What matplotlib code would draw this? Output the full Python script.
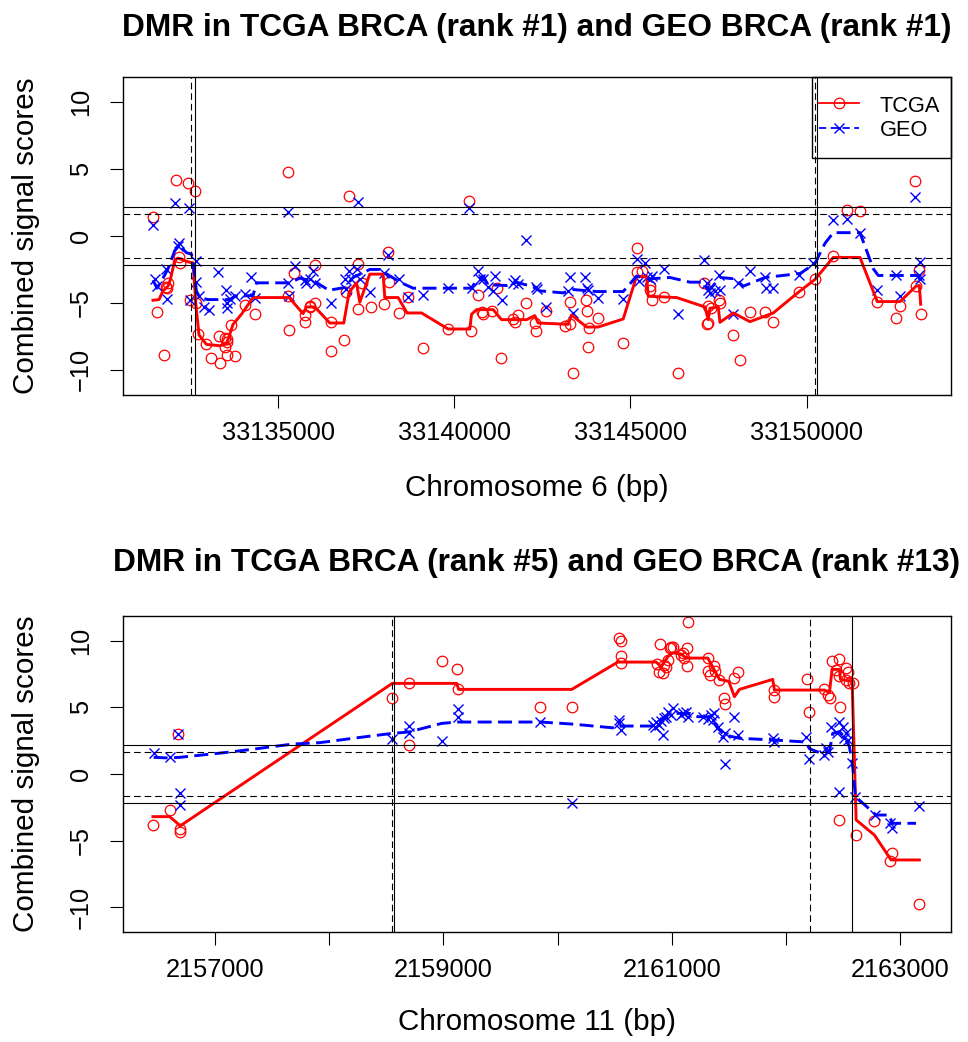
import numpy as np
import matplotlib
matplotlib.use("Agg")
import matplotlib.pyplot as plt
from matplotlib.lines import Line2D
from matplotlib.patches import Rectangle

plt.rcParams['font.family'] = ['Liberation Sans', 'DejaVu Sans']

# ---------------- Chromosome 6 region ----------------
CHR6_BASE = 33130000
tcga6_pos = [1451, 1565, 1775, 1832, 1860, 1877, 2096, 2181, 2210, 2456,
             2513, 2655, 2664, 2740, 2948, 3098, 3325, 3353, 3487, 3487,
             3544, 3544, 3544, 3666, 3771, 4055, 4339, 5284, 5284, 5312,
             5466, 5758, 5758, 5900, 5900, 6042, 6042, 6516, 6516, 6865,
             6942, 7016, 7271, 7271, 7368, 7632, 8001, 8123, 8151, 8435,
             8690, 9099, 9826, 10414, 10470, 10678, 10783, 10820, 11058, 11200,
             11322, 11671, 11719, 11805, 12032, 12287, 12316, 12600, 13139, 13281,
             13281, 13374, 13735, 13754, 13782, 13827, 14084, 14794, 15174, 15174,
             15325, 15552, 15552, 15608, 15949, 16338, 17093, 17170, 17207, 17207,
             17296, 17515, 17539, 17917, 18101, 18391, 18817, 19052, 19790, 20236,
             20738, 21136, 21513, 22004, 22535, 22649, 23075, 23103, 23197, 23236]
tcga6_val = [1.4, -5.7, -8.9, -3.8, -3.9, -3.5, 4.15, -1.55, -2.0, 3.97,
             -4.75, 3.33, -5.0, -7.3, -8.07, -9.1, -7.5, -9.5, -7.6, -8.3,
             -7.9, -7.7, -8.9, -6.65, -9.0, -5.15, -5.8, 4.8, -4.5, -7.0,
             -2.8, -5.9, -6.4, -5.2, -5.3, -5.0, -2.2, -6.45, -8.6, -7.75,
             -4.2, 3.0, -2.1, -5.45, -3.5, -5.3, -5.1, -1.2, -3.4, -5.75,
             -4.55, -8.4, -6.95, 2.6, -7.1, -4.4, -5.7, -5.85, -5.6, -3.9,
             -9.1, -6.2, -6.4, -5.9, -5.0, -6.5, -7.1, -5.6, -6.7, -6.6,
             -4.95, -10.25, -4.75, -5.6, -8.3, -6.85, -6.1, -8.0, -0.9, -2.7,
             -2.6, -3.75, -4.0, -4.75, -4.55, -10.2, -3.5, -6.6, -5.25, -6.5,
             -5.35, -4.75, -5.0, -7.4, -9.3, -5.7, -5.7, -6.4, -4.15, -3.25,
             -1.5, 1.93, 1.88, -4.9, -6.1, -5.2, 4.1, -3.7, -2.55, -5.8]
tcga6_fit_pos = [1451, 1622, 1736, 1877, 1945, 2068, 2161, 2473, 2587, 2664,
                 2757, 2968, 3345, 3535, 3629, 3723, 3961, 4290, 5312, 5710,
                 5806, 6042, 6468, 6865, 7016, 7225, 7319, 7603, 7981, 8029,
                 8407, 8662, 9071, 9826, 10442, 10490, 10632, 11103, 11342, 12051,
                 12287, 12381, 13233, 13329, 13754, 14084, 14794, 15174, 15458, 15504,
                 16310, 17113, 17207, 17255, 17491, 17539, 17917, 18391, 19052, 19790,
                 20236, 20755, 21513, 22004, 22649, 23103, 23197, 23236]
tcga6_fit_val = [-4.8, -4.75, -4.1, -3.75, -3.25, -1.8, -1.65, -1.95, -2.0, -5.0,
                 -7.4, -8.1, -8.2, -8.07, -7.35, -6.6, -5.85, -4.6, -4.6, -5.8,
                 -5.3, -5.3, -6.5, -6.5, -4.2, -3.5, -4.95, -2.85, -2.85, -4.6,
                 -4.6, -5.75, -5.75, -6.95, -6.95, -5.85, -5.5, -5.5, -6.25, -6.25,
                 -5.95, -6.5, -6.6, -5.9, -6.8, -6.8, -6.2, -3.0, -3.05, -4.5,
                 -4.6, -5.3, -6.25, -5.4, -5.3, -6.45, -5.75, -6.4, -5.75, -4.15,
                 -3.25, -1.6, -1.6, -4.9, -4.9, -3.75, -3.7, -5.1]
geo6_pos = [1451, 1508, 1565, 1832, 1860, 2068, 2161, 2190, 2473, 2493,
            2664, 2664, 2749, 2899, 3041, 3297, 3515, 3544, 3544, 3629,
            3771, 4055, 4245, 4339, 5284, 5284, 5312, 5474, 5758, 5806,
            5900, 5994, 6042, 6516, 6893, 6942, 7016, 7084, 7243, 7271,
            7319, 7603, 8009, 8123, 8435, 8690, 9099, 9826, 10414, 10490,
            10678, 10726, 10820, 10961, 11103, 11150, 11342, 11671, 11719, 11805,
            12023, 12316, 12344, 12600, 13233, 13281, 13374, 13707, 13754, 13782,
            14084, 14794, 15174, 15249, 15410, 15467, 15552, 15608, 15949, 16338,
            17093, 17170, 17207, 17255, 17397, 17511, 17539, 17917, 18059, 18391,
            18817, 18846, 19052, 19790, 20188, 20755, 21136, 21513, 22004, 22535,
            22649, 23075, 23197, 23216, 23216]
geo6_val = [0.8, -3.25, -3.7, -2.5, -4.7, 2.45, -0.75, -0.5, 2.1, -4.75,
            -1.9, -3.4, -4.5, -5.3, -5.55, -2.7, -4.0, -5.0, -5.4, -4.7,
            -4.5, -4.3, -3.05, -4.6, 1.8, -3.5, -4.5, -2.25, -3.3, -3.5,
            -3.2, -2.6, -3.5, -5.0, -3.2, -3.95, -2.6, -3.25, -2.45, 2.55,
            -3.25, -4.2, -2.8, -1.4, -3.25, -4.55, -4.4, -3.9, 2.1, -3.9,
            -2.6, -3.25, -3.2, -3.8, -4.1, -3.0, -4.75, -3.5, -3.3, -3.6,
            -0.3, -3.8, -3.95, -5.3, -4.1, -3.1, -5.75, -3.1, -3.9, -4.0,
            -4.6, -4.7, -1.75, -3.35, -2.0, -3.1, -3.25, -3.0, -2.5, -5.8,
            -1.8, -3.5, -4.0, -4.25, -4.1, -2.95, -4.0, -5.8, -3.5, -2.6,
            -3.1, -3.9, -3.9, -2.9, -2.0, 1.2, 1.25, 0.2, -4.0, -2.95,
            -4.5, 2.88, -2.9, -1.95, -3.25]
geo6_fit_pos = [1451, 1565, 1736, 1877, 2068, 2210, 2400, 2542, 2607, 2683,
                2777, 3013, 3629, 3771, 4290, 4387, 5332, 5616, 6042, 6468,
                6561, 6893, 7129, 7603, 7887, 8123, 8503, 8832, 10490, 10632,
                10820, 10961, 11484, 11768, 12239, 12429, 13091, 13374, 14039, 14794,
                15174, 15552, 16120, 16687, 17019, 17255, 17539, 17965, 18201, 18817,
                19817, 20236, 20520, 20755, 21513, 21891, 22033, 23168, 23236]
geo6_fit_val = [-3.3, -3.9, -3.15, -2.45, -1.1, -0.7, -1.25, -1.35, -2.35, -4.1,
                -4.6, -4.75, -4.75, -4.5, -4.45, -3.5, -3.5, -3.15, -3.4, -4.1,
                -4.0, -3.85, -3.1, -2.5, -2.5, -2.9, -3.5, -3.9, -3.9, -3.3,
                -3.0, -3.65, -3.7, -3.45, -3.8, -4.1, -4.25, -4.0, -4.15, -4.15,
                -3.0, -3.2, -3.1, -3.45, -3.45, -4.0, -3.1, -3.2, -3.75, -3.1,
                -2.8, -2.05, -0.55, 0.25, 0.25, -2.45, -2.95, -2.95, -3.45]
chr6_dmr_tcga = [33132642, 33150295]
chr6_dmr_geo = [33132528, 33150239]
chr6_ticks = [33135000, 33140000, 33145000, 33150000]
chr6_ticklabels = ["33135000", "33140000", "33145000", "33150000"]

# ---------------- Chromosome 11 region ----------------
CHR11_BASE = 2156000
tcga11_pos = [460, 613, 679, 697, 697, 2554, 2697, 2699, 2988, 3119,
              3128, 3851, 4125, 4536, 4557, 4557, 4557, 4869, 4892, 4898,
              4921, 4936, 4951, 4965, 4980, 4994, 5009, 5082, 5096, 5111,
              5131, 5131, 5140, 5315, 5315, 5336, 5373, 5382, 5411, 5455,
              5469, 5542, 5583, 5892, 5892, 6180, 6204, 6336, 6365, 6385,
              6403, 6438, 6467, 6467, 6467, 6476, 6520, 6525, 6540, 6554,
              6589, 6613, 6773, 6910, 6928, 7166]
tcga11_val = [-3.85, -2.7, 2.98, -4.15, -4.37, 5.72, 6.8, 2.15, 8.5, 7.9,
              6.35, 5.05, 5.05, 10.2, 10.0, 8.85, 8.35, 8.23, 7.68, 9.73,
              7.6, 8.18, 8.05, 8.55, 9.43, 9.5, 9.55, 8.93, 9.05, 8.68,
              9.48, 8.1, 11.38, 8.68, 7.73, 7.43, 8.13, 7.73, 7.05, 5.72,
              5.23, 7.18, 7.68, 6.3, 5.75, 7.1, 4.68, 6.35, 5.93, 5.72,
              8.5, 7.8, 8.6, 7.35, -3.45, 5.05, 7.05, 7.93, 7.68, 6.8,
              6.8, -4.6, -3.53, -6.5, -5.9, -9.78]
tcga11_fit_pos = [460, 606, 668, 697, 2554, 3119, 3134, 4125, 4528, 4863,
                  4907, 4965, 5009, 5082, 5126, 5315, 5344, 5417, 5499, 5548,
                  5592, 5883, 5898, 6336, 6379, 6403, 6467, 6476, 6578, 6613,
                  6773, 6919, 7166]
tcga11_fit_val = [-3.2, -3.2, -3.65, -3.9, 6.8, 6.8, 6.35, 6.35, 8.4, 8.4,
                  8.05, 8.8, 9.1, 9.0, 8.7, 8.7, 8.25, 7.1, 6.95, 5.8,
                  6.35, 7.1, 6.3, 6.3, 6.1, 7.85, 7.85, 7.1, 6.95, -3.45,
                  -4.58, -6.45, -6.45]
geo11_pos = [466, 606, 679, 694, 694, 2554, 2697, 2697, 2988, 3125,
             3125, 3851, 4125, 4542, 4542, 4557, 4834, 4849, 4863, 4892,
             4907, 4921, 4936, 4953, 4965, 4994, 5009, 5082, 5096, 5126,
             5140, 5271, 5315, 5344, 5358, 5373, 5402, 5446, 5469, 5469,
             5542, 5577, 5883, 5898, 6175, 6204, 6333, 6350, 6365, 6394,
             6443, 6461, 6467, 6496, 6510, 6525, 6540, 6578, 6607, 6782,
             6910, 6928, 7166]
geo11_val = [1.55, 1.25, 2.98, -1.4, -2.3, 2.6, 3.6, 3.05, 2.45, 4.9,
             4.3, 3.88, -2.2, 4.05, 3.8, 3.3, 3.68, 3.5, 3.9, 3.65,
             4.0, 2.93, 4.2, 4.3, 4.68, 4.45, 4.93, 4.45, 4.6, 4.65,
             4.3, 4.3, 4.1, 4.43, 4.05, 4.55, 3.55, 2.8, 3.05, 0.73,
             4.3, 2.93, 2.68, 2.43, 2.8, 1.1, 1.43, 1.93, 1.68, 3.55,
             3.05, 3.93, -1.33, 3.55, 2.68, 3.05, 2.55, 0.85, -1.7, -3.08,
             -3.65, -4.08, -2.38]
geo11_fit_pos = [466, 606, 694, 1160, 1685, 1918, 2210, 2554, 2697, 2988,
                 3125, 3851, 4125, 4528, 4557, 4717, 4834, 4980, 5155, 5227,
                 5329, 5402, 5461, 5592, 5898, 6175, 6204, 6292, 6379, 6408,
                 6467, 6510, 6554, 6583, 6607, 6788, 6904, 6928, 7137]
geo11_fit_val = [1.25, 1.2, 1.25, 1.67, 2.25, 2.35, 2.68, 3.05, 3.15, 3.8,
                 3.9, 3.9, 3.75, 3.43, 3.6, 3.6, 3.6, 4.55, 4.55, 4.3,
                 4.3, 3.43, 2.93, 2.68, 2.55, 2.4, 1.9, 1.6, 1.68, 3.05,
                 3.18, 2.8, 2.05, 0.55, -1.7, -3.08, -3.08, -3.7, -3.7]
chr11_dmr_tcga = [2158566, 2162579]
chr11_dmr_geo = [2158555, 2162208]
chr11_ticks = [2157000, 2158000, 2159000, 2160000, 2161000, 2162000, 2163000]
chr11_ticklabels = ["2157000", "", "2159000", "", "2161000", "", "2163000"]

# significance cut-offs on the combined score
cut_solid = 2.17
cut_dashed = 1.645

RED = "#ff0000"
BLUE = "#0000ff"
YLIM = (-11.88, 11.88)


def draw_panel(ax, base, t_pos, t_val, t_fpos, t_fval, g_pos, g_val, g_fpos, g_fval,
               dmr_tcga, dmr_geo, xlim, ticks, ticklabels):
    tp = base + np.asarray(t_pos)
    gp = base + np.asarray(g_pos)
    ax.plot(tp, t_val, ls="none", marker="o", ms=7.6, mfc="none", mec=RED, mew=0.9)
    ax.plot(gp, g_val, ls="none", marker="x", ms=7.4, mec=BLUE, mew=1.0)
    ax.plot(base + np.asarray(t_fpos), t_fval, color=RED, lw=2.1)
    ax.plot(base + np.asarray(g_fpos), g_fval, color=BLUE, lw=2.1, dashes=(4.8, 2.2))
    for s in (1, -1):
        ax.axhline(s * cut_solid, color="black", lw=0.8)
        ax.axhline(s * cut_dashed, color="black", lw=0.8, dashes=(6, 3.5))
    for x in dmr_tcga:
        ax.axvline(x, color="black", lw=0.8)
    for x in dmr_geo:
        ax.axvline(x, color="black", lw=0.8, dashes=(6, 3.5))
    ax.set_xlim(*xlim)
    ax.set_ylim(*YLIM)
    ax.set_xticks(ticks)
    ax.set_xticklabels(ticklabels)
    ax.set_yticks([-10, -5, 0, 5, 10])
    ax.tick_params(direction="out", length=9.5, width=0.8, labelsize=18.3, pad=9)
    ax.tick_params(axis="y", pad=12)
    for lbl in ax.get_yticklabels():
        lbl.set_rotation(90)
        lbl.set_va("center")
    for sp in ax.spines.values():
        sp.set_linewidth(1.0)


fig = plt.figure(figsize=(9.68, 10.42), dpi=100)
W, H = 968.0, 1042.0
ax1 = fig.add_axes([123 / W, 1 - 395 / H, 828 / W, 318 / H])
ax2 = fig.add_axes([123 / W, 1 - 932.3 / H, 828 / W, 316.6 / H])

draw_panel(ax1, CHR6_BASE, tcga6_pos, tcga6_val, tcga6_fit_pos, tcga6_fit_val,
           geo6_pos, geo6_val, geo6_fit_pos, geo6_fit_val,
           chr6_dmr_tcga, chr6_dmr_geo, (33130600, 33154096),
           chr6_ticks, chr6_ticklabels)
draw_panel(ax2, CHR11_BASE, tcga11_pos, tcga11_val, tcga11_fit_pos, tcga11_fit_val,
           geo11_pos, geo11_val, geo11_fit_pos, geo11_fit_val,
           chr11_dmr_tcga, chr11_dmr_geo, (2156198, 2163443),
           chr11_ticks, chr11_ticklabels)

# legend entries without a frame, boxed by a plain rectangle in the corner
handles = [Line2D([], [], color=RED, lw=1.3, marker="o", ms=7.6, mfc="none", mec=RED, mew=0.9),
           Line2D([], [], color=BLUE, lw=1.3, marker="x", ms=7.4, mew=1.0, dashes=(4, 2.5))]
leg = ax1.legend(handles, ["TCGA", "GEO"], loc="upper right",
                 bbox_to_anchor=(0.9867, 0.945), borderaxespad=0, borderpad=0,
                 frameon=False, fontsize=15.7, handlelength=1.83, handletextpad=0.96,
                 handleheight=1.0, labelspacing=0.1)
ax1.add_patch(Rectangle((0.8321, 0.7453), 1 - 0.8321, 1 - 0.7453, transform=ax1.transAxes,
                        fill=False, edgecolor="black", lw=1.0, clip_on=False, zorder=5))

cx = (123 + 951) / 2 / W
fig.text(cx, 1 - 28 / H, "DMR in TCGA BRCA (rank #1) and GEO BRCA (rank #1)",
         ha="center", va="center", fontsize=22.8, fontweight="bold")
fig.text(cx, 1 - 563 / H, "DMR in TCGA BRCA (rank #5) and GEO BRCA (rank #13)",
         ha="center", va="center", fontsize=22.8, fontweight="bold")
fig.text(cx, 1 - 488 / H, "Chromosome 6 (bp)", ha="center", va="center", fontsize=21.3)
fig.text(cx, 1 - 1022 / H, "Chromosome 11 (bp)", ha="center", va="center", fontsize=21.3)
fig.text(26 / W, 1 - 236 / H, "Combined signal scores", ha="center", va="center",
         rotation=90, fontsize=21.3)
fig.text(26 / W, 1 - 774 / H, "Combined signal scores", ha="center", va="center",
         rotation=90, fontsize=21.3)

fig.savefig("out.png", dpi=100)
